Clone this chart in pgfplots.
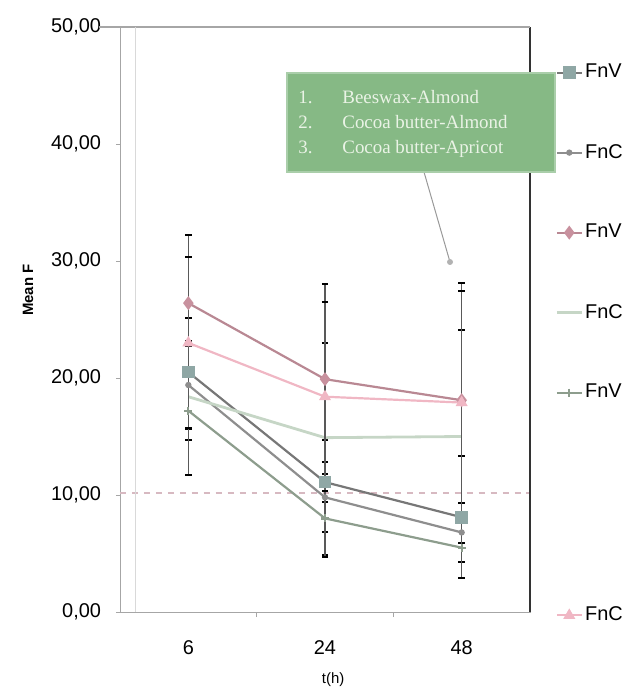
\documentclass[border=0pt]{standalone}
\usepackage{fontspec}
\setmainfont{Liberation Sans}
\newfontfamily\boxfont{Liberation Serif}
\usepackage{pgfplots}
\pgfplotsset{compat=1.18}
\definecolor{sqline}{HTML}{777777}
\definecolor{sqfill}{HTML}{8FA7A5}
\definecolor{midgray}{HTML}{8E8E8E}
\definecolor{mauve}{HTML}{B98893}
\definecolor{mauvefill}{HTML}{C8919E}
\definecolor{palegreen}{HTML}{C6D6C6}
\definecolor{greengray}{HTML}{8D9D8D}
\definecolor{palepink}{HTML}{F0B7C4}
\definecolor{refline}{HTML}{D7B9C1}
\definecolor{boxgreen}{HTML}{86B985}
\definecolor{boxtext}{HTML}{EAF3E6}

\pgfplotsset{
  eb/.style={error bars/.cd, y dir=both, y explicit, error mark=|,
    error bar style={black!65, line width=0.8bp, solid},
    error mark options={black, mark size=1.6bp, line width=1bp}},
}

\begin{document}
\begin{tikzpicture}
\begin{axis}[
    scale only axis,
    width=205bp, height=292.5bp,
    xmin=-0.5, xmax=2.5, ymin=0, ymax=50,
    xtick={0,1,2}, xticklabels={6,24,48},
    major x tick style={draw=none},
    minor xtick={0.5,1.5},
    minor tick length=2.5bp,
    ytick={0,10,20,30,40,50},
    major tick length=2bp,
    tick align=outside,
    xtick pos=bottom, ytick pos=left,
    axis line style={gray!70},
    tick style={gray!70},
    /pgf/number format/fixed,
    /pgf/number format/fixed zerofill,
    /pgf/number format/precision=2,
    /pgf/number format/use comma,
    /pgf/number format/assume math mode=true,
    yticklabel style={xshift=-4bp, font=\fontsize{10}{12}\selectfont},
    xticklabel style={yshift=-9bp, font=\fontsize{10}{12}\selectfont},
    xlabel={t(h)},
    ylabel={\textbf{Mean F}},
    xlabel style={at={(axis description cs:0.52,-0.116)}, anchor=center, font=\fontsize{7.5}{9}\selectfont},
    ylabel style={at={(axis description cs:-0.224,0.55)}, anchor=center, font=\fontsize{7.5}{9}\selectfont},
    legend style={at={(axis description cs:1.061,0.937)}, anchor=north west,
      draw=none, fill=none, inner sep=0pt, row sep=31.6bp, column sep=1bp,
      nodes={inner sep=0pt}, font=\fontsize{10}{12}\selectfont},
    legend cell align=left,
    legend image code/.code={\draw[mark repeat=2,mark phase=2,#1] plot coordinates {(0cm,0cm) (0.22cm,0cm) (0.44cm,0cm)};},
    clip=false,
]
% reference level
\addplot[refline, line width=1bp, dashed, forget plot] coordinates {(-0.5,10.2) (2.5,10.2)};

\addplot[sqline, line width=1.1bp, mark=square*, mark size=2.6bp, mark options={fill=sqfill, draw=sqfill}, eb]
  coordinates {(0,20.5) +- (0,5.8) (1,11.1) +- (0,1.7) (2,8.1) +- (0,5.2)};
\addlegendentry{FnV}

\addplot[midgray, line width=1.1bp, mark=*, mark size=1bp, eb]
  coordinates {(0,19.4) +- (0,3.8) (1,9.8) +- (0,4.9) (2,6.8) +- (0,2.5)};
\addlegendentry{FnC}

\addplot[mauve, line width=1.1bp, mark=diamond*, mark size=2.6bp, mark options={fill=mauvefill, draw=mauvefill}, eb]
  coordinates {(0,26.4) +- (0,5.8) (1,19.9) +- (0,8.1) (2,18.1) +- (0,10.0)};
\addlegendentry{FnV}

\addplot[palegreen, line width=1.4bp, mark=none, eb]
  coordinates {(0,18.4) +- (0,6.7) (1,14.9) +- (0,8.1) (2,15.0) +- (0,9.1)};
\addlegendentry{FnC}

\addplot[greengray, line width=1.1bp, mark=+, mark size=2bp, eb]
  coordinates {(0,17.2) +- (0,5.5) (1,8.0) +- (0,3.3) (2,5.5) +- (0,2.6)};
\addlegendentry{FnV}

% two blank legend rows for the wider gap before the last entry
\addlegendimage{empty legend}
\addlegendentry{\rule{0pt}{2.6bp}}
\addlegendimage{empty legend}
\addlegendentry{\rule{0pt}{2.6bp}}

\addplot[palepink, line width=1.1bp, mark=triangle*, mark size=2.4bp, mark options={fill=palepink}, eb]
  coordinates {(0,23.0) +- (0,7.3) (1,18.4) +- (0,8.1) (2,17.9) +- (0,9.5)};
\addlegendentry{FnC}

\draw[black!80, line width=1bp] (rel axis cs:1,0) -- (rel axis cs:1,1);
\draw[gray!70, line width=0.8bp] (rel axis cs:-0.05,1) -- (rel axis cs:1,1);
\draw[gray!30, line width=0.6bp] (rel axis cs:0.037,0) -- (rel axis cs:0.037,1);
\end{axis}

% callout
\draw[gray!80, line width=0.5bp] (152bp,220bp) -- (165bp,175bp);
\fill[gray!60] (165bp,175bp) circle (1.5bp);
\fill[boxgreen, draw=boxgreen!70!white, line width=0.8bp] (83.5bp,220bp) rectangle (217.5bp,269.5bp);
\node[anchor=north west, text=boxtext, font=\boxfont\fontsize{9.5}{12.5}\selectfont, align=left, inner sep=0pt]
  at (89bp,261bp) {%
  \makebox[22bp][l]{1.}Beeswax-Almond\\
  \makebox[22bp][l]{2.}Cocoa butter-Almond\\
  \makebox[22bp][l]{3.}Cocoa butter-Apricot};

\pgfresetboundingbox
\path (-60bp,-40bp) rectangle (258bp,306bp);
\end{tikzpicture}
\end{document}
